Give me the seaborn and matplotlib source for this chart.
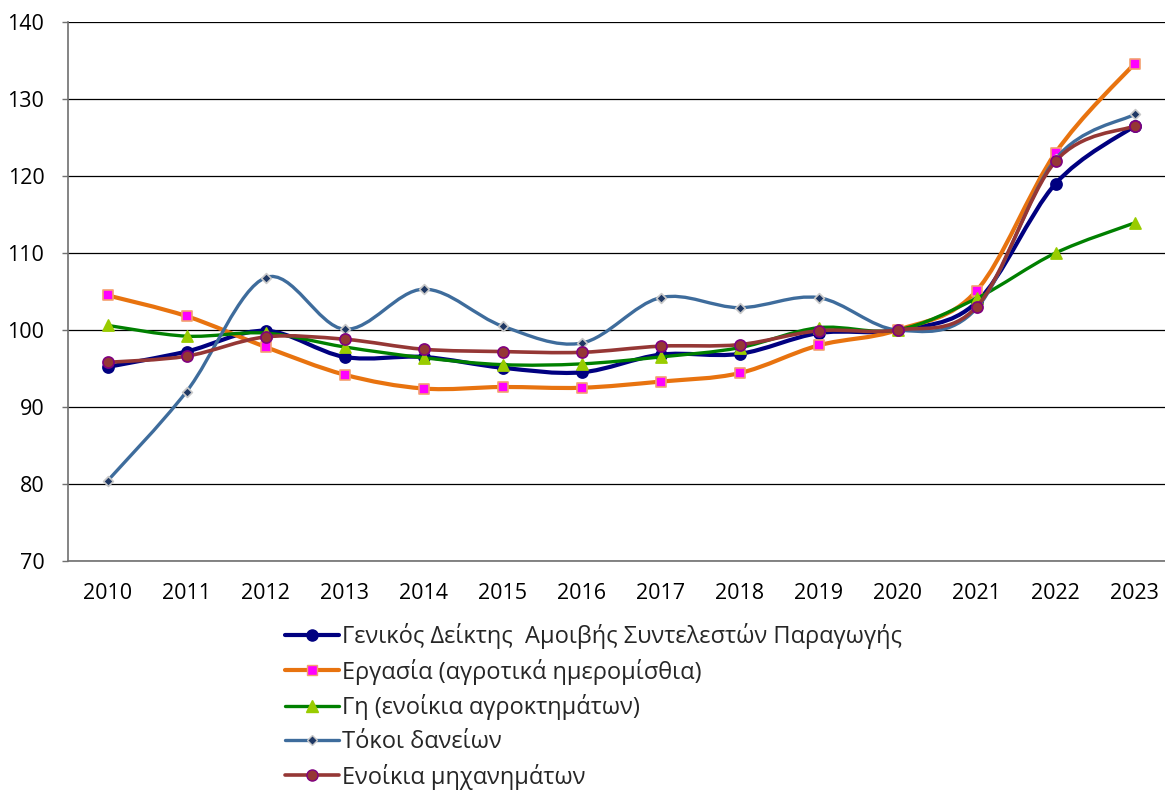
import numpy as np
import matplotlib
matplotlib.use("Agg")
import matplotlib.pyplot as plt
import seaborn as sns
from matplotlib.path import Path
from matplotlib.patches import PathPatch
from matplotlib.lines import Line2D

years = [str(y) for y in range(2010, 2024)]

genikos = [95.2, 97.2, 99.9, 96.5, 96.5, 95.1, 94.5, 96.8, 96.9, 99.6, 100.0, 103.6, 119.0, 126.5]
ergasia = [104.5, 101.8, 97.8, 94.2, 92.4, 92.6, 92.5, 93.3, 94.4, 98.0, 100.0, 105.1, 123.0, 134.6]
gi = [100.6, 99.2, 99.6, 97.8, 96.4, 95.5, 95.6, 96.5, 97.7, 100.3, 100.0, 104.1, 110.0, 113.9]
tokoi = [80.4, 92.0, 106.8, 100.1, 105.3, 100.5, 98.3, 104.2, 102.9, 104.2, 100.0, 102.8, 122.2, 128.0]
mixanimata = [95.8, 96.6, 99.1, 98.8, 97.5, 97.2, 97.1, 97.9, 98.1, 99.9, 100.0, 103.0, 121.9, 126.5]

labels = [
    "Γενικός Δείκτης  Αμοιβής Συντελεστών Παραγωγής",
    "Εργασία (αγροτικά ημερομίσθια)",
    "Γη (ενοίκια αγροκτημάτων)",
    "Τόκοι δανείων",
    "Ενοίκια μηχανημάτων",
]

# line colour, line width, marker, marker face, marker edge, marker size
styles = [
    ("#000080", 3.0, "o", "#000080", "#000080", 8),
    ("#E8730F", 3.0, "s", "#FF00FF", "#F4A070", 7),
    ("#008000", 2.4, "^", "#99CC00", "#99CC00", 8),
    ("#3E6C9C", 2.4, "D", "#1F3864", "#C8C8C8", 5),
    ("#953735", 2.6, "o", "#953735", "#800080", 8),
]


def smooth_path(xs, ys):
    # Excel style smoothed line: Catmull-Rom as cubic Bezier segments
    pts = np.column_stack([xs, ys]).astype(float)
    n = len(pts)
    verts = [pts[0]]
    codes = [Path.MOVETO]
    for i in range(n - 1):
        p0 = pts[max(i - 1, 0)]
        p1 = pts[i]
        p2 = pts[i + 1]
        p3 = pts[min(i + 2, n - 1)]
        c1 = p1 + (p2 - p0) / 6.0
        c2 = p2 - (p3 - p1) / 6.0
        verts += [c1, c2, p2]
        codes += [Path.CURVE4] * 3
    return Path(verts, codes)


sns.set_theme(style="white")
plt.rcParams["font.family"] = ["Open Sans", "DejaVu Sans"]

fig = plt.figure(figsize=(11.65, 7.9), dpi=100)
ax = fig.add_axes([68 / 1165, 1 - 561 / 790, 1106 / 1165, 539 / 790])

x = np.arange(len(years))
series = [genikos, ergasia, gi, tokoi, mixanimata]
handles = []
for k, (vals, st) in enumerate(zip(series, styles)):
    col, lw, mk, mfc, mec, ms = st
    patch = PathPatch(smooth_path(x, vals), facecolor="none", edgecolor=col,
                      lw=lw, zorder=3 + k, capstyle="round", joinstyle="round")
    ax.add_patch(patch)
    sns.scatterplot(x=x, y=vals, ax=ax, marker=mk, s=ms ** 2, color=mfc,
                    edgecolor=mec, linewidth=1.2, zorder=3.5 + k, legend=False)
    handles.append(Line2D([], [], color=col, lw=lw, marker=mk, markersize=ms,
                          markerfacecolor=mfc, markeredgecolor=mec))

ax.set_xlim(-0.5, len(years) - 0.5)
ax.set_ylim(70, 140)
ax.set_yticks(np.arange(70, 141, 10))
ax.set_xticks(x)
ax.set_xticklabels(years)
ax.set_xticks(np.arange(-0.5, len(years), 1), minor=True)
ax.tick_params(axis="x", which="major", length=0, labelsize=15.5, pad=16, colors="black")
ax.tick_params(axis="x", which="minor", length=4.5, width=1, color="#707070", direction="out")
ax.tick_params(axis="y", length=4.5, width=1, color="#707070", labelsize=15.5, colors="black",
               left=True, direction="out", pad=12.5)
ax.yaxis.grid(True, color="black", lw=0.9)
ax.xaxis.grid(False)
for side in ["top", "right"]:
    ax.spines[side].set_visible(False)
ax.spines["left"].set_color("#707070")
ax.spines["bottom"].set_color("#707070")
ax.spines["left"].set_linewidth(1.2)
ax.spines["bottom"].set_linewidth(1.2)
ax.set_xlabel("")
ax.set_ylabel("")

fig.legend(handles, labels, loc="upper left", bbox_to_anchor=(285 / 1165, 1 - 623 / 790),
           frameon=False, fontsize=17, handlelength=2.3, handletextpad=0.1,
           labelspacing=0.41, borderaxespad=0, borderpad=0)

fig.savefig("out.png", dpi=100)
